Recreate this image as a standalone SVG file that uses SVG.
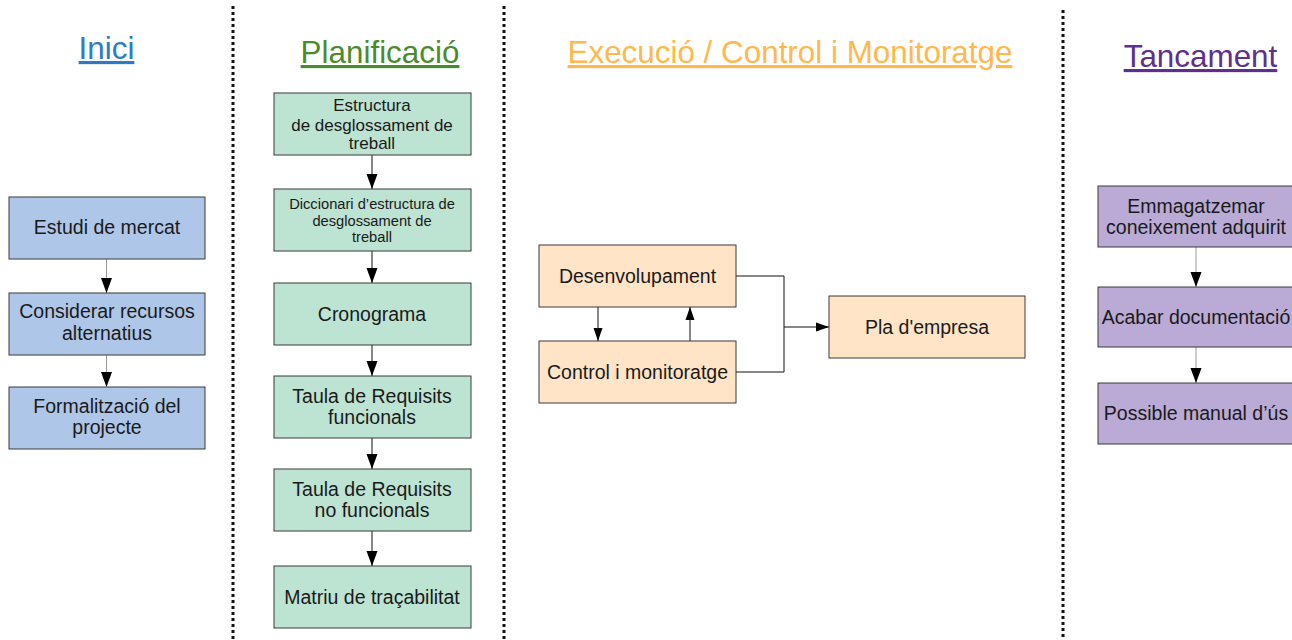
<svg xmlns="http://www.w3.org/2000/svg" width="1292" height="640" viewBox="0 0 1292 640">
<defs>
<style>
.t{font-family:"Liberation Sans",Arial,sans-serif;fill:#1a1a1a;text-anchor:middle;font-size:19.5px}
.s17{font-size:17px}
.s15{font-size:14.7px}
.h{font-family:"Liberation Sans",Arial,sans-serif;font-size:31.4px;text-anchor:middle;text-decoration:underline}
.box{stroke:#3a3a3a;stroke-width:1}
.b{fill:#aec6e8}.g{fill:#bde3d2}.o{fill:#ffe4c8}.p{fill:#b9aad6}
.sep{stroke:#111;stroke-width:3;stroke-dasharray:3 3;fill:none}
.c{fill:none;stroke:#111;stroke-width:1}
.cg{fill:none;stroke:#9a9a9a;stroke-width:1}
</style>
<marker id="ah" markerUnits="userSpaceOnUse" markerWidth="15" markerHeight="12" refX="15" refY="5.5" orient="auto" viewBox="0 0 15 11">
<path d="M0,0 L15,5.5 L0,11 Z" fill="#000"/>
</marker>
<marker id="ahs" markerUnits="userSpaceOnUse" markerWidth="13" markerHeight="10" refX="13" refY="4.5" orient="auto" viewBox="0 0 13 9">
<path d="M0,0 L13,4.5 L0,9 Z" fill="#000"/>
</marker>
</defs>
<rect width="1292" height="640" fill="#fff"/>
<g id="separators">
<line class="sep" x1="233" y1="6" x2="233" y2="640"/>
<line class="sep" x1="504" y1="6" x2="504" y2="640"/>
<line class="sep" x1="1063" y1="10" x2="1063" y2="640"/>
</g>
<g id="titles">
<text class="h" x="106.5" y="59" fill="#2e7bc4">Inici</text>
<text class="h" x="380" y="63" fill="#4c8b2b">Planificació</text>
<text class="h" x="790" y="63" fill="#ffb84d">Execució / Control i Monitoratge</text>
<text class="h" x="1200.5" y="67" fill="#5e2f8e">Tancament</text>
</g>
<g id="connectors">
<line class="cg" x1="106.5" y1="259" x2="106.5" y2="293" marker-end="url(#ah)"/>
<line class="cg" x1="106.5" y1="355" x2="106.5" y2="387" marker-end="url(#ah)"/>
<line class="c" x1="372" y1="155" x2="372" y2="189" marker-end="url(#ah)"/>
<line class="c" x1="372" y1="251" x2="372" y2="283" marker-end="url(#ah)"/>
<line class="c" x1="372" y1="345" x2="372" y2="376" marker-end="url(#ah)"/>
<line class="c" x1="372" y1="438" x2="372" y2="469" marker-end="url(#ah)"/>
<line class="c" x1="372" y1="531" x2="372" y2="566" marker-end="url(#ah)"/>
<line class="c" x1="598" y1="307" x2="598" y2="341" marker-end="url(#ahs)"/>
<line class="c" x1="690" y1="341" x2="690" y2="307" marker-end="url(#ahs)"/>
<polyline class="c" points="736,276 784,276 784,327"/>
<polyline class="c" points="736,372 784,372 784,327"/>
<line class="c" x1="784" y1="327" x2="829" y2="327" marker-end="url(#ahs)"/>
<line class="cg" x1="1196" y1="247" x2="1196" y2="287" marker-end="url(#ah)"/>
<line class="cg" x1="1196" y1="347" x2="1196" y2="383" marker-end="url(#ah)"/>
</g>
<g id="n-estudi"><rect class="box b" x="9" y="197" width="196" height="62"/><text class="t" x="107" y="234">Estudi de mercat</text></g>
<g id="n-considerar"><rect class="box b" x="9" y="293" width="196" height="62"/><text class="t" x="107" y="318">Considerar recursos</text><text class="t" x="107" y="340">alternatius</text></g>
<g id="n-formalitzacio"><rect class="box b" x="9" y="387" width="196" height="62"/><text class="t" x="107" y="413">Formalització del</text><text class="t" x="107" y="434">projecte</text></g>
<g id="n-edt"><rect class="box g" x="274" y="93" width="197" height="62"/><text class="t s17" x="372" y="111">Estructura</text><text class="t s17" x="372" y="131">de desglossament de</text><text class="t s17" x="372" y="149">treball</text></g>
<g id="n-diccionari"><rect class="box g" x="274" y="189" width="197" height="62"/><text class="t s15" x="372" y="209">Diccionari d’estructura de</text><text class="t s15" x="372" y="226">desglossament de</text><text class="t s15" x="372" y="242">treball</text></g>
<g id="n-cronograma"><rect class="box g" x="274" y="283" width="197" height="62"/><text class="t" x="372" y="321">Cronograma</text></g>
<g id="n-rf"><rect class="box g" x="274" y="376" width="197" height="62"/><text class="t" x="372" y="403">Taula de Requisits</text><text class="t" x="372" y="424">funcionals</text></g>
<g id="n-rnf"><rect class="box g" x="274" y="469" width="197" height="62"/><text class="t" x="372" y="496">Taula de Requisits</text><text class="t" x="372" y="517">no funcionals</text></g>
<g id="n-matriu"><rect class="box g" x="274" y="566" width="197" height="62"/><text class="t" x="372" y="604">Matriu de traçabilitat</text></g>
<g id="n-desenvolupament"><rect class="box o" x="539" y="245" width="197" height="62"/><text class="t" x="637.5" y="283">Desenvolupament</text></g>
<g id="n-control"><rect class="box o" x="539" y="341" width="197" height="62"/><text class="t" x="637.5" y="379">Control i monitoratge</text></g>
<g id="n-pla"><rect class="box o" x="829" y="296" width="196" height="62"/><text class="t" x="927" y="334">Pla d'empresa</text></g>
<g id="n-emmagatzemar"><rect class="box p" x="1098" y="186" width="197" height="61"/><text class="t" x="1196" y="213">Emmagatzemar</text><text class="t" x="1196" y="234">coneixement adquirit</text></g>
<g id="n-acabar"><rect class="box p" x="1098" y="287" width="197" height="60"/><text class="t" x="1196" y="324">Acabar documentació</text></g>
<g id="n-manual"><rect class="box p" x="1098" y="383" width="197" height="61"/><text class="t" x="1196" y="420">Possible manual d’ús</text></g>
</svg>
